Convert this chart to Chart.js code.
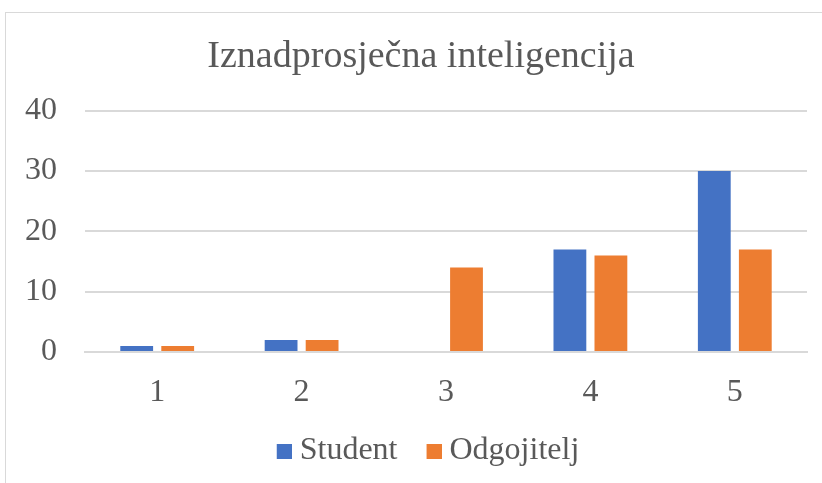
<!DOCTYPE html>
<html>
<head>
<meta charset="utf-8">
<script src="https://cdn.jsdelivr.net/npm/chart.js@4"></script>
<style>
  body { margin: 0; background: #fff; }
  #wrap { position: relative; width: 822px; height: 483px; overflow: hidden; }
  #frame { position: absolute; left: 5px; top: 12px; width: 900px; height: 600px; border: 1px solid #d9d9d9; }
  canvas { position: absolute; left: 0; top: 0; }
</style>
</head>
<body>
<div id="wrap">
  <div id="frame"></div>
  <canvas id="myChart" width="822" height="483"></canvas>
</div>
<script>
// data
const categories = ['1', '2', '3', '4', '5'];
const student = [1, 2, 0, 17, 30];
const odgojitelj = [1, 2, 14, 16, 17];
const yTicks = [0, 10, 20, 30, 40];

const textColor = '#595959';
const serif = "'Liberation Serif', 'Times New Roman', serif";

Chart.defaults.font.family = serif;
Chart.defaults.color = textColor;

// legend marker: square sitting at the right end of a wider transparent canvas
function swatch(color) {
    const c = document.createElement('canvas');
    c.width = 38;
    c.height = 15;
    const g = c.getContext('2d');
    g.fillStyle = color;
    g.fillRect(23, 0, 15, 15);
    return c;
}

// excel centres title and legend a bit more to the right than the plot
const shiftBlocks = {
    id: 'shiftBlocks',
    afterLayout: function (chart) {
        chart.titleBlock.left += 35;
        chart.legend.left += 34;
    }
};

const ctx = document.getElementById('myChart').getContext('2d');
const myChart = new Chart(ctx, {
    type: 'bar',
    data: {
        labels: categories,
        datasets: [{
            label: 'Student',
            data: student,
            backgroundColor: '#4472C4'
        }, {
            label: 'Odgojitelj',
            data: odgojitelj,
            backgroundColor: '#ED7D31'
        }]
    },
    options: {
        responsive: false,
        animation: false,
        devicePixelRatio: 1,
        categoryPercentage: 0.568,
        barPercentage: 0.8,
        layout: { padding: { left: 0, right: 15, top: 12, bottom: 6 } },
        plugins: {
            title: {
                display: true,
                text: 'Iznadprosječna inteligencija',
                color: textColor,
                font: { family: serif, size: 38, weight: 'normal' },
                padding: { top: 22, bottom: 31 }
            },
            legend: {
                position: 'bottom',
                labels: {
                    color: textColor,
                    font: { family: serif, size: 32, weight: 'normal' },
                    usePointStyle: true,
                    pointStyleWidth: 22,
                    boxHeight: 15,
                    padding: 14,
                    generateLabels: function (chart) {
                        const items = Chart.defaults.plugins.legend.labels.generateLabels(chart);
                        items.forEach(function (it) { it.pointStyle = swatch(it.fillStyle); });
                        return items;
                    }
                }
            },
            tooltip: { enabled: false }
        },
        scales: {
            x: {
                grid: { display: false },
                border: { color: '#d9d9d9', width: 2 },
                ticks: {
                    color: textColor,
                    font: { family: serif, size: 32 },
                    padding: 13
                },
                afterFit: function (scale) { scale.height = 69; }
            },
            y: {
                min: 0,
                max: 40,
                afterBuildTicks: function (scale) {
                    scale.ticks = yTicks.map(v => ({ value: v }));
                },
                grid: { color: '#d9d9d9', lineWidth: 2, drawTicks: false },
                border: { display: false },
                ticks: {
                    color: textColor,
                    font: { family: serif, size: 32 },
                    padding: 28
                },
                afterFit: function (scale) { scale.width = 85; }
            }
        }
    },
    plugins: [shiftBlocks]
});
</script>
</body>
</html>
